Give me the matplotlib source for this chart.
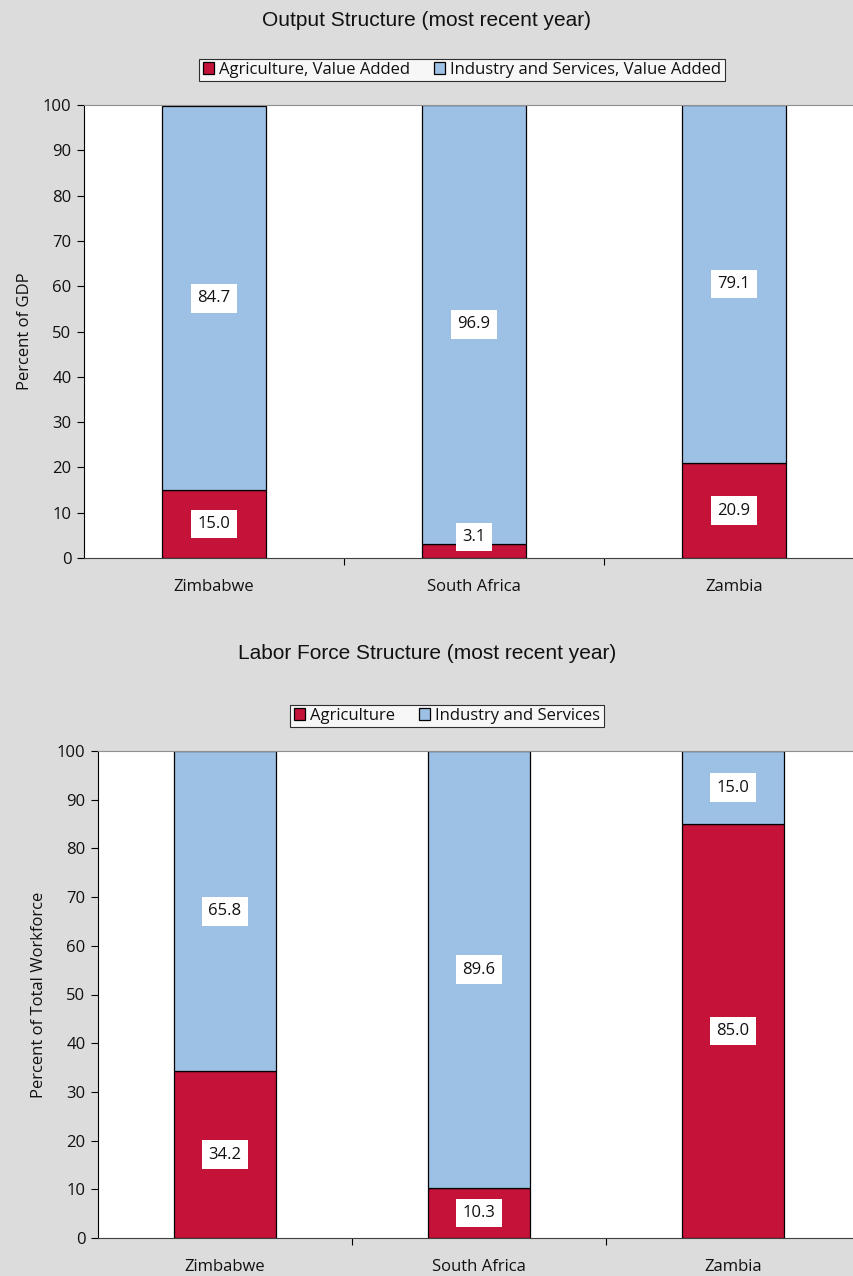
import matplotlib.pyplot as plt
import numpy as np

countries = ['Zimbabwe', 'South Africa', 'Zambia']
gdp_agri = [15.0, 3.1, 20.9]
gdp_ind = [84.7, 96.9, 79.1]
lab_agri = [34.2, 10.3, 85.0]
lab_ind = [65.8, 89.6, 15.0]

RED = '#c41239'
BLUE = '#9dc0e5'
BG = '#dcdcdc'
TICK_FONT = 'Open Sans'
FS = 12

fig = plt.figure(figsize=(8.54, 12.76), dpi=100, facecolor=BG)


def stacked(ax, agri, ind, names, ylabel, title, title_y, leg_x, leg_y):
    x = np.arange(len(countries))
    ax.set_facecolor('white')
    ax.bar(x, agri, width=0.4, color=RED, edgecolor='black', linewidth=0.9, label=names[0])
    ax.bar(x, ind, width=0.4, bottom=agri, color=BLUE, edgecolor='black', linewidth=0.9,
           label=names[1])
    for xi, a, b in zip(x, agri, ind):
        for val, mid in ((a, a / 2), (b, a + b / 2)):
            ax.text(xi, max(mid, 4.6), f'{val:.1f}', ha='center', va='center',
                    fontsize=FS, family=TICK_FONT, color='#111111',
                    bbox=dict(boxstyle='square,pad=0.38', facecolor='white', edgecolor='none'))
    ax.set_xlim(-0.5, 2.5)
    ax.set_ylim(0, 100)
    ax.set_yticks(range(0, 101, 10))
    ax.set_xticks(x)
    ax.set_xticklabels(countries)
    ax.set_xticks([0.5, 1.5, 2.5], minor=True)
    ax.tick_params(axis='x', which='major', length=0, pad=15, labelcolor='#111111')
    ax.tick_params(axis='x', which='minor', length=5, direction='out', width=0.8)
    ax.tick_params(axis='y', length=5, direction='out', width=0.8, pad=4, labelcolor='#111111')
    for lab in ax.get_xticklabels() + ax.get_yticklabels():
        lab.set_family(TICK_FONT)
        lab.set_fontsize(FS)
    ax.spines['left'].set_color('black')
    ax.spines['bottom'].set_color('#404040')
    ax.spines['top'].set_color('#909090')
    ax.spines['right'].set_visible(False)
    ax.set_ylabel(ylabel, family=TICK_FONT, fontsize=FS, labelpad=7, color='#111111')
    fig.text(0.5, title_y, title, ha='center', va='center', fontsize=15,
             family='Liberation Sans', color='#111111')
    leg = ax.legend(loc='center', bbox_to_anchor=(leg_x, leg_y), bbox_transform=fig.transFigure,
                    ncol=2, frameon=True, fancybox=False, edgecolor='black',
                    prop={'family': TICK_FONT, 'size': FS}, handlelength=0.7,
                    handleheight=0.7, handletextpad=0.3, columnspacing=1.4,
                    borderpad=0.2, borderaxespad=0)
    leg.get_frame().set_linewidth(0.8)
    for t in leg.get_texts():
        t.set_color('#111111')


ax1 = fig.add_axes([84 / 854, 1 - 558 / 1276, 780 / 854, 453 / 1276])
stacked(ax1, gdp_agri, gdp_ind,
        ['Agriculture, Value Added', 'Industry and Services, Value Added'],
        'Percent of GDP', 'Output Structure (most recent year)',
        1 - 20 / 1276, 462 / 854, 1 - 70 / 1276)

ax2 = fig.add_axes([98 / 854, 1 - 1238 / 1276, 762 / 854, 487 / 1276])
stacked(ax2, lab_agri, lab_ind, ['Agriculture', 'Industry and Services'],
        'Percent of Total Workforce', 'Labor Force Structure (most recent year)',
        1 - 654 / 1276, 447 / 854, 1 - 716 / 1276)

fig.savefig('out.png', dpi=100, facecolor=BG)
